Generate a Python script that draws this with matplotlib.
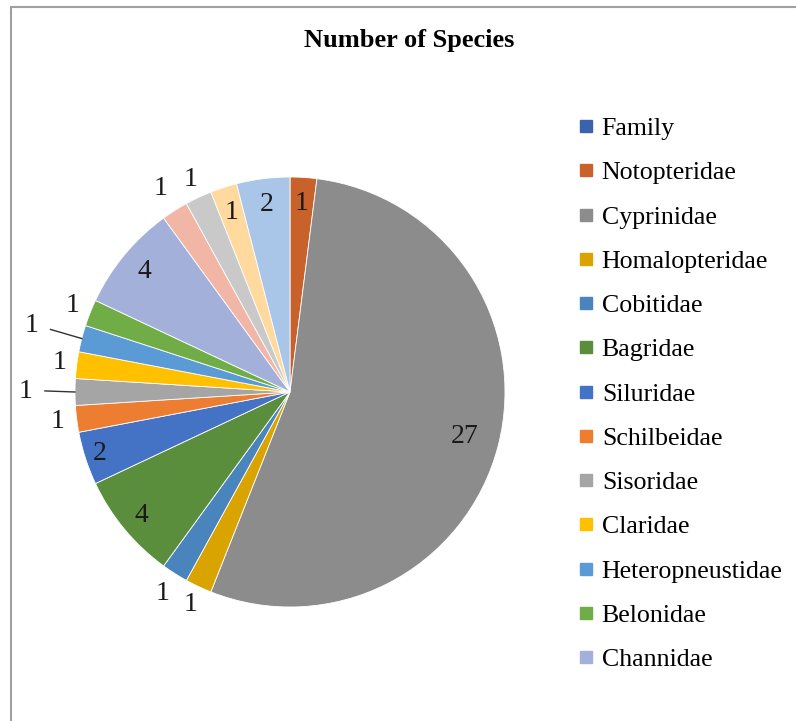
import numpy as np
import matplotlib
matplotlib.use("Agg")
import matplotlib.pyplot as plt
from matplotlib.lines import Line2D

plt.rcParams['font.family'] = ['Liberation Serif', 'DejaVu Serif']

# families in chart order (last four are cut off from the legend in the original)
families = ['Family', 'Notopteridae', 'Cyprinidae', 'Homalopteridae', 'Cobitidae',
            'Bagridae', 'Siluridae', 'Schilbeidae', 'Sisoridae', 'Claridae',
            'Heteropneustidae', 'Belonidae', 'Channidae',
            'Other 1', 'Other 2', 'Other 3', 'Other 4']
species = [0, 1, 27, 1, 1, 4, 2, 1, 1, 1, 1, 1, 4, 1, 1, 1, 2]
n_legend = 13

colors = ['#3B62AD', '#C8622A', '#8C8C8C', '#D9A300', '#4A84BC', '#5A8E3C',
          '#4472C4', '#ED7D31', '#A5A5A5', '#FFC000', '#5B9BD5', '#70AD47',
          '#A3B1DA', '#F1B6A5', '#C9C9C9', '#FFD99E', '#A9C5E8']
# where each value label sits, as a fraction of the radius
label_r = [0, 0.88, 0.84, 1.09, 1.11, 0.90, 0.93, 1.09, 1.23, 1.08, 1.24, 1.09,
           0.88, 1.12, 1.09, 0.88, 0.88]
leader = [8, 10]  # labels with a leader line

W, H = 796, 721
fig = plt.figure(figsize=(W / 100, H / 100), dpi=100)

cx, cy, r = 290, 392, 215
ax = fig.add_axes([(cx - r) / W, (H - cy - r) / H, 2 * r / W, 2 * r / H])
wedges, _ = ax.pie(species, colors=colors, startangle=90, counterclock=False,
                   radius=1, wedgeprops=dict(edgecolor='white', linewidth=0.6))
ax.set_xlim(-1, 1)
ax.set_ylim(-1, 1)
ax.set_aspect('equal')
ax.axis('off')

for i, (w, v) in enumerate(zip(wedges, species)):
    if v == 0:
        continue
    ang = np.deg2rad((w.theta1 + w.theta2) / 2)
    d = label_r[i]
    ax.text(d * np.cos(ang), d * np.sin(ang), str(v), ha='center', va='center',
            fontsize=20, color='#1a1a1a')
    if i in leader:
        ax.plot([1.0 * np.cos(ang), (d - 0.09) * np.cos(ang)],
                [1.0 * np.sin(ang), (d - 0.09) * np.sin(ang) + 0.005],
                color='#333333', lw=1, clip_on=False)

fig.text(409 / W, 1 - 40 / H, 'Number of Species', ha='center', va='center',
         fontsize=19, fontweight='bold')

handles = [Line2D([], [], marker='s', linestyle='none', markersize=8.5,
                  markerfacecolor=colors[i], markeredgecolor=colors[i])
           for i in range(n_legend)]
fig.legend(handles, families[:n_legend], loc='upper left',
           bbox_to_anchor=(578 / W, 1 - 117 / H), frameon=False, fontsize=18.6,
           handlelength=0.62, handletextpad=0.3, labelspacing=0.82,
           borderaxespad=0, borderpad=0)

# chart frame (top and left edges visible)
fig.add_artist(Line2D([10.5 / W, 1], [1 - 6.5 / H, 1 - 6.5 / H], color='#A0A0A0', lw=1.5))
fig.add_artist(Line2D([10.5 / W, 10.5 / W], [0, 1 - 6.5 / H], color='#A0A0A0', lw=1.5))

fig.savefig('out.png', dpi=100)
